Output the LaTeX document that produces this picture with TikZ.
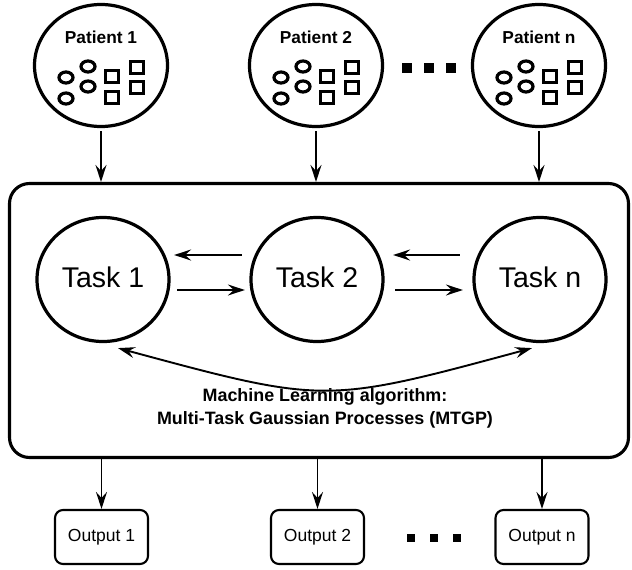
\documentclass[tikz,border=0pt]{standalone}
\usepackage{fontspec}
\setmainfont{Liberation Sans}
\usetikzlibrary{arrows.meta,calc,shapes.geometric}
\tikzset{
  icons/.pic={
    \begin{scope}[line width=3.2pt]
    \draw (-35,12) ellipse [x radius=7pt, y radius=5.5pt];
    \draw (-35,33) ellipse [x radius=7pt, y radius=5.5pt];
    \draw (-13,1) ellipse [x radius=7pt, y radius=5.5pt];
    \draw (-13,21) ellipse [x radius=7pt, y radius=5.5pt];
    \draw (4.75,4.75) rectangle ++(12.5,12.5);
    \draw (4.75,25.75) rectangle ++(12.5,12.5);
    \draw (29.75,-4.25) rectangle ++(12.5,12.5);
    \draw (29.75,15.75) rectangle ++(12.5,12.5);
    \end{scope}
  }
}
\begin{document}
\begin{tikzpicture}[x=1pt,y=-1pt,
  >={Stealth[length=17pt,width=11pt,inset=6pt]},
  arr/.style={line width=1.9pt,->},
  patient/.style={draw,ellipse,line width=3.2pt,minimum width=133pt,minimum height=122pt,inner sep=0pt},
  task/.style={draw,ellipse,line width=3.2pt,minimum width=132pt,minimum height=124pt,inner sep=0pt,text depth=5pt,font=\fontsize{28.5}{34}\selectfont},
  outbox/.style={draw,rectangle,rounded corners=8pt,line width=2.1pt,minimum width=93pt,minimum height=54pt,inner sep=0pt,font=\fontsize{17.5}{21}\selectfont},
  plabel/.style={inner sep=0pt,font=\bfseries\fontsize{17.3}{21}\selectfont},
  mlbox/.style={draw,rectangle,rounded corners=20pt,line width=3.1pt,minimum width=619pt,minimum height=274pt},
  dotsq/.style={fill=black}
]
\useasboundingbox (0,0) rectangle (632,570);

% main box
\node[mlbox] (box) at (319,320.5) {};

% patients
\node[patient] (p1) at (101,65.5) {};
\node[patient] (p2) at (316,65.5) {};
\node[patient] (pn) at (539,65.5) {};
\node[plabel] (p1l) at (101,37) {Patient 1};
\node[plabel] (p2l) at (316,37) {Patient 2};
\node[plabel] (pnl) at (539,37) {Patient n};
\pic at (p1) {icons};
\pic at (p2) {icons};
\pic at (pn) {icons};

% dots top
\fill[dotsq] (402.25,63.25) rectangle ++(9.5,9.5);
\fill[dotsq] (424.25,63.25) rectangle ++(9.5,9.5);
\fill[dotsq] (446.25,63.25) rectangle ++(9.5,9.5);

% tasks
\node[task] (t1) at (103,279.5) {Task 1};
\node[task] (t2) at (317,279.5) {Task 2};
\node[task] (tn) at (540,279.5) {Task n};

% ML text
\node[align=center,font=\bfseries\fontsize{17.9}{23}\selectfont] (ml) at (325,408) {Machine Learning algorithm:\\Multi-Task Gaussian Processes (MTGP)};

% outputs
\node[outbox] (o1) at (101.5,537) {Output 1};
\node[outbox] (o2) at (317.5,537) {Output 2};
\node[outbox] (on) at (542,537) {Output n};

% dots bottom
\fill[dotsq] (407.25,534.25) rectangle ++(7.5,7.5);
\fill[dotsq] (430.25,534.25) rectangle ++(7.5,7.5);
\fill[dotsq] (453.25,534.25) rectangle ++(7.5,7.5);

% patient -> box
\draw[arr,shorten <=3pt] (p1.south) -- (p1.south |- box.north);
\draw[arr,shorten <=3pt] (p2.south) -- (p2.south |- box.north);
\draw[arr,shorten <=3pt] (pn.south) -- (pn.south |- box.north);

% box -> outputs
\draw[arr] (o1.north |- box.south) -- (o1.north);
\draw[arr] (o2.north |- box.south) -- (o2.north);
\draw[arr] (on.north |- box.south) -- (on.north);

% task arrows
\draw[arr] ($(t2.west)+(-7.5,-24.5)$) -- ($(t1.east)+(3.5,-24.5)$);
\draw[arr] ($(t1.east)+(6.5,10.5)$) -- ($(t2.west)+(-4.5,10.5)$);
\draw[arr] ($(tn.west)+(-12.5,-24.5)$) -- ($(t2.east)+(8.5,-24.5)$);
\draw[arr] ($(t2.east)+(10.5,10.5)$) -- ($(tn.west)+(-9.5,10.5)$);

% curved double arrow
\draw[line width=1.9pt,<->] ($(t1.south)+(15,5)$) .. controls (325,404) .. ($(tn.south)+(-8,5)$);
\end{tikzpicture}
\end{document}
